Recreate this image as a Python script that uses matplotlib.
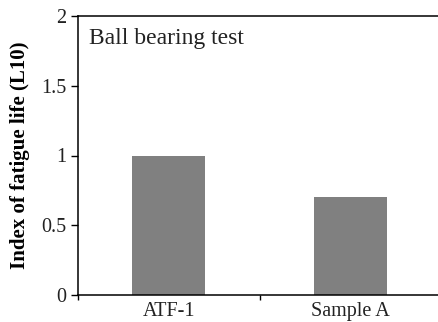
import matplotlib
matplotlib.use("Agg")
import matplotlib.pyplot as plt
from matplotlib.ticker import FixedLocator, NullFormatter

samples = ["ATF-1", "Sample A"]
fatigue_index = [1.0, 0.7]
y_ticks = [0, 0.5, 1, 1.5, 2]
y_tick_labels = ["0", "0.5", "1", "1.5", "2"]

plt.rcParams["font.family"] = ["Liberation Serif", "DejaVu Serif"]

fig = plt.figure(figsize=(4.38, 3.22), dpi=100)
ax = fig.add_axes([78 / 438, 27 / 322, 363 / 438, 279 / 322])

x = range(len(samples))
ax.bar(x, fatigue_index, width=0.4, color="#808080", edgecolor="none")

ax.set_xlim(-0.5, len(samples) - 0.5)
ax.set_ylim(0, 2)
ax.set_yticks(y_ticks)
ax.set_yticklabels(y_tick_labels, fontsize=14.5, color="#222222")

# boundary ticks as major, category labels as minor (no tick mark)
ax.xaxis.set_major_locator(FixedLocator([-0.5, 0.5, 1.5]))
ax.xaxis.set_major_formatter(NullFormatter())
ax.xaxis.set_minor_locator(FixedLocator(list(x)))
ax.set_xticklabels(samples, minor=True, fontsize=14.5, color="#222222")
ax.tick_params(axis="x", which="minor", length=0, pad=5)
ax.tick_params(axis="x", which="major", direction="out", length=3.5, width=1)
ax.tick_params(axis="y", which="major", direction="out", length=5, width=1)

for s in ["left", "bottom", "top"]:
    ax.spines[s].set_linewidth(1.1)
ax.spines["right"].set_visible(False)

ax.set_ylabel("Index of fatigue life (L10)", fontsize=15, fontweight="bold", labelpad=8)
ax.text(0.03, 0.90, "Ball bearing test", transform=ax.transAxes, fontsize=17,
        va="baseline", ha="left", color="#222222")

fig.savefig("out.png", dpi=100)
